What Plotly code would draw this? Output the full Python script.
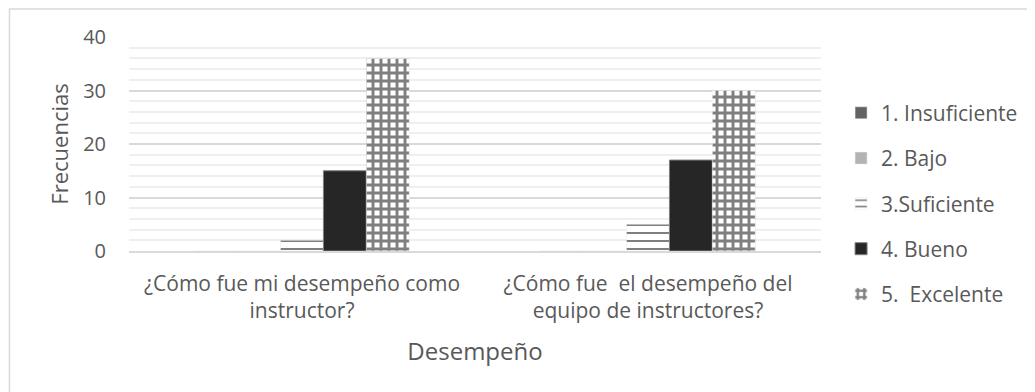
import plotly.graph_objects as go

TEXT = '#595959'
GRID_MAJOR = '#d9d9d9'
GRID_MINOR = '#efefef'
FONT = 'Open Sans'

categories = ['¿Cómo fue mi desempeño como<br>instructor?',
              '¿Cómo fue  el desempeño del<br>equipo de instructores?']
series_names = ['1. Insuficiente', '2. Bajo', '3.Suficiente', '4. Bueno', '5.  Excelente']
insuficiente = [0, 0]
bajo = [0, 0]
suficiente = [2, 5]
bueno = [15, 17]
excelente = [36, 30]
y_ticks = [0, 10, 20, 30, 40]

values = [insuficiente, bajo, suficiente, bueno, excelente]
styles = [
    dict(color='#636363'),
    dict(color='#b3b3b3'),
    dict(color='white', pattern=dict(shape='-', fgcolor='black', bgcolor='white', size=8, solidity=0.25)),
    dict(color='#262626', line=dict(color='#7f7f7f', width=1)),
    dict(color='white', pattern=dict(shape='+', fgcolor='black', bgcolor='white', size=8, solidity=0.6)),
]

fig = go.Figure()
for i, (name, vals, mk) in enumerate(zip(series_names, values, styles)):
    fig.add_trace(go.Bar(
        x=categories, y=vals, name=name, marker=mk,
        legendgroup=f'g{i}'
    ))

fig.update_layout(
    width=1027, height=384,
    paper_bgcolor='white', plot_bgcolor='white',
    font=dict(family=FONT, color=TEXT, size=20),
    margin=dict(l=121, r=211, t=29, b=141),
    barmode='group', bargap=0.38, bargroupgap=0,
    legend=dict(x=1.029, y=0.74, xanchor='left', yanchor='top',
                font=dict(size=21, color=TEXT), itemwidth=30,
                tracegroupgap=15, bgcolor='rgba(0,0,0,0)', maxheight=380),
    shapes=[dict(type='rect', xref='paper', yref='paper',
                 x0=-0.1727, x1=1.5, y0=-1, y1=1.131,
                 line=dict(color='#d9d9d9', width=1.5), layer='below')],
)
fig.update_yaxes(
    range=[0, 40], tickvals=y_ticks, showgrid=True, gridcolor=GRID_MAJOR, gridwidth=1.5,
    minor=dict(dtick=2, showgrid=True, gridcolor=GRID_MINOR, gridwidth=1.5),
    zeroline=False, showline=False, ticks='',
    tickfont=dict(size=20, color=TEXT), ticklabelstandoff=22,
    title=dict(text='Frecuencias', font=dict(size=22, color=TEXT), standoff=8),
)
fig.update_xaxes(
    showline=True, linecolor=GRID_MAJOR, linewidth=1.5, ticks='',
    tickfont=dict(size=21, color=TEXT), ticklabelstandoff=13,
    title=dict(text='Desempeño', font=dict(size=24, color=TEXT), standoff=20),
)

fig.write_html('out.html')
